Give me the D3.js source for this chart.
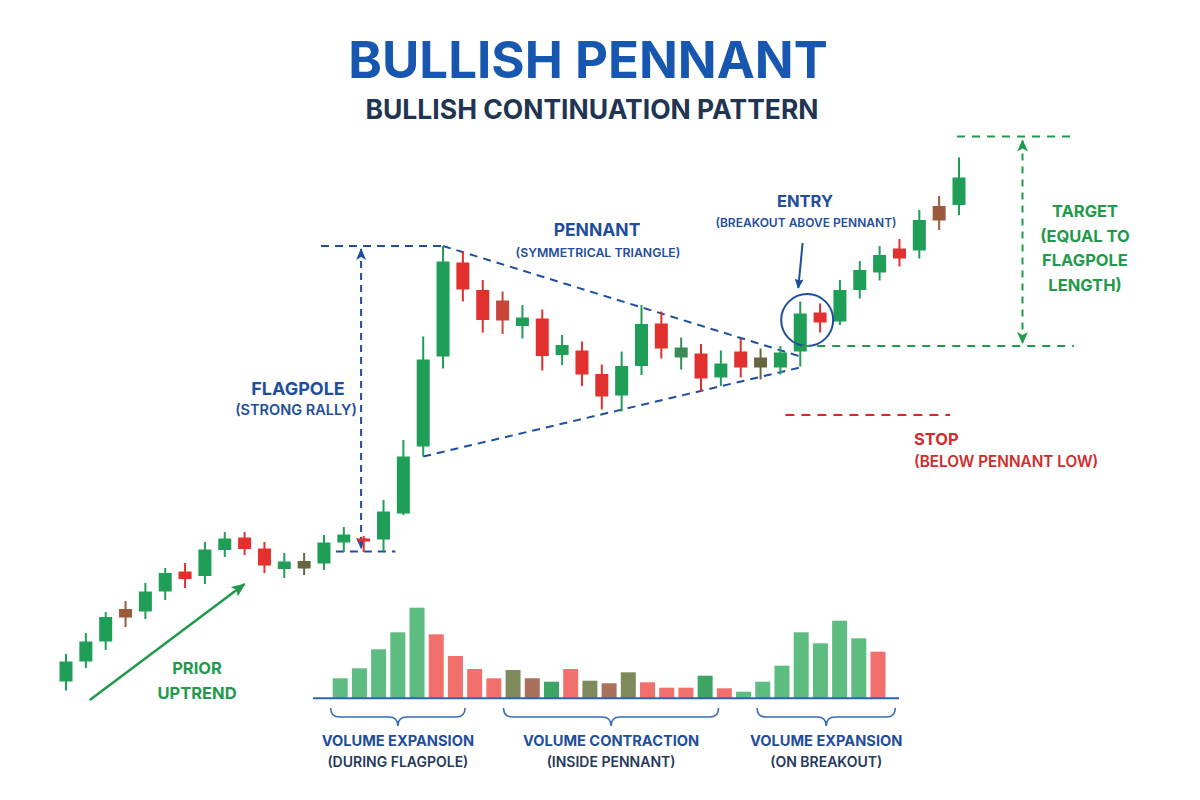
<!DOCTYPE html>
<html><head><meta charset="utf-8">
<script src="https://cdn.jsdelivr.net/npm/d3@7"></script>
<style>body{margin:0;background:#fff;} text{font-family:Inter, Roboto, "DejaVu Sans", sans-serif;}</style>
</head><body><svg id="c" width="1200" height="800"></svg>
<script>
// ---- Data ----
const candleOpen  = [3.7,7.7,11.7,18.2,17.7,21.7,25.7,24.8,30,32.5,30.3,26.2,27.8,27.3,31.5,32.3,32.1,37.3,50.7,68.7,87.5,82,79.9,74.8,76.3,69,69.9,65.2,60.9,66.8,75.3,68.5,69.3,64.5,69.7,68.5,66.5,69.7,77.5,75.7,82,85.5,90.3,89.9,98.8,99];
const candleHigh  = [9.2,13.4,17.6,19.8,23.4,26.4,27.4,31.6,33.6,33.6,31.6,29.4,29.4,33,34.6,32.8,40,52,72.7,90.8,89.7,84,81.7,79,78.1,73,71.7,67.1,69.7,79,77.7,72.5,71.2,69.9,72.3,70.3,70.8,79.7,79.3,84,87.8,90.8,92.2,98,100.8,108.5];
const candleLow   = [1.9,6.4,10,14.6,16.2,20,22.4,23.2,28.6,29,25.4,24.4,25,26,29.6,29.6,29.7,37,48.7,66.3,79.7,73.5,73.2,72.3,65.9,67,62.8,58.1,57.7,65,68.3,66.1,61.8,62.8,64.5,64.1,65.1,66.7,73.5,75,80.3,83.9,86.7,88.3,94,97];
const candleClose = [7.7,11.7,16.6,16.5,21.7,25.4,24.2,30.1,32.3,30.2,26.9,27.7,26.3,31.5,33.1,31.7,37.7,48.7,68.1,87.7,82.1,76,75.9,76.5,68.8,71,65.1,60.7,66.8,75.2,70.3,70.5,64.3,67.3,66.5,66.5,69.5,77.3,75.5,82,86,89,88.3,96,95.9,104.5];
const candleTone  = ["g","g","g","b","g","g","r","g","g","r","r","g","o","g","g","r","g","g","g","g","r","r","rb","g","r","g","r","r","g","g","r","dg","r","g","r","o","g","g","r","g","g","g","r","g","b","g"];

const volumes    = [20,30,49,66,90.6,64,42.3,29.3,20,28.3,20,16.6,29.3,17.6,15,26,16,10.6,10.6,22.6,10,6.6,16.6,32.6,66,55,77.6,60,46.6];
const volumeTone = ["g","g","g","g","g","r","r","r","r","o","b","dg","r","o","b","o","r","r","r","dg","r","g","g","g","g","g","g","g","r"];

// annotation levels (price units) and pattern lines
const flagpoleTop = 90.8, flagpoleBase = 29.7;
const pennantUpper = [[19, 90.8], [37.1, 68.6]];
const pennantLower = [[18, 48.7], [37.1, 66.6]];
const entryLevel = 70.8, targetLevel = 112.7, stopLevel = 57;
const volumeGroups = [
  {from: 0, to: 6.5, label: "VOLUME EXPANSION", sub: "(DURING FLAGPOLE)"},
  {from: 9, to: 19.7, label: "VOLUME CONTRACTION", sub: "(INSIDE PENNANT)"},
  {from: 22.2, to: 28.9, label: "VOLUME EXPANSION", sub: "(ON BREAKOUT)"}
];
const titleText = "BULLISH PENNANT";
const subtitleText = "BULLISH CONTINUATION PATTERN";

// ---- Styles ----
const candleColor = {g:"#1e9e57", r:"#e2302e", b:"#9a5a3c", o:"#656640", rb:"#c9473a", dg:"#3b8b57"};
const volColor = {g:"#5dbd80", r:"#f2706b", o:"#7f8a5c", b:"#a9705c", dg:"#3ea565"};
const BLUE = "#1f4e9c", NAVY = "#25395a", GREEN = "#1f9a4b", RED = "#d42a2a";

const svg = d3.select("#c");
const defs = svg.append("defs");
function marker(id, color, path, w, h, refX) {
  defs.append("marker").attr("id", id).attr("viewBox", `0 0 ${w} ${h}`)
    .attr("refX", refX).attr("refY", h/2).attr("markerWidth", w).attr("markerHeight", h)
    .attr("markerUnits", "userSpaceOnUse").attr("orient", "auto-start-reverse")
    .append("path").attr("d", path).attr("fill", color);
}
marker("arB", BLUE, "M0,0 L12,5 L0,10 L3,5 Z", 12, 10, 11);
marker("arG", GREEN, "M0,0 L12,5.5 L0,11 L3,5.5 Z", 12, 11, 11);
marker("arGU", GREEN, "M0,0 L14,6 L0,12 L3,6 Z", 14, 12, 13);
marker("arE", BLUE, "M0,0 L10,4.5 L0,9 L1.5,4.5 Z", 10, 9, 9);

const x = d3.scaleLinear().domain([0, 45]).range([66, 959]);
const y = d3.scaleLinear().domain([0, 110]).range([700, 150]);
const vx = d3.scaleLinear().domain([0, 28]).range([340.2, 878]);
const vy = d3.scaleLinear().domain([0, 100]).range([698.3, 598.3]);

// ---- Title ----
svg.append("text").attr("x", 588).attr("y", 78).attr("text-anchor", "middle")
  .attr("font-size", 51).attr("font-weight", 700).attr("fill", "#1757b0").text(titleText);
svg.append("text").attr("x", 592).attr("y", 119).attr("text-anchor", "middle")
  .attr("font-size", 26.5).attr("font-weight", 700).attr("fill", "#1f3552").text(subtitleText);

// ---- Volume ----
const vbw = 15;
svg.append("g").selectAll("rect").data(volumes).join("rect")
  .attr("x", (d, i) => vx(i) - vbw/2).attr("width", vbw)
  .attr("y", d => vy(d)).attr("height", d => vy(0) - vy(d))
  .attr("fill", (d, i) => volColor[volumeTone[i]]);
svg.append("line").attr("x1", 313).attr("x2", 899).attr("y1", vy(0)).attr("y2", vy(0))
  .attr("stroke", "#2e63b5").attr("stroke-width", 2);

volumeGroups.forEach(gp => {
  const x1 = vx(gp.from) - 9.5, x2 = vx(gp.to), cx = (x1 + x2) / 2;
  const t = 708, m = 717, b = 726;
  svg.append("path")
    .attr("d", `M${x1},${t} Q${x1},${m} ${x1+9},${m} L${cx-9},${m} Q${cx},${m} ${cx},${b} Q${cx},${m} ${cx+9},${m} L${x2-9},${m} Q${x2},${m} ${x2},${t}`)
    .attr("fill", "none").attr("stroke", "#3a6cb8").attr("stroke-width", 1.6);
  svg.append("text").attr("x", cx).attr("y", 746).attr("text-anchor", "middle")
    .attr("font-size", 14.6).attr("font-weight", 700).attr("fill", BLUE).text(gp.label);
  svg.append("text").attr("x", cx).attr("y", 767).attr("text-anchor", "middle")
    .attr("font-size", 14).attr("font-weight", 600).attr("fill", NAVY).text(gp.sub);
});

// ---- Pattern lines ----
const dashB = "8,6";
const ln = (x1, y1, x2, y2, color, dash, w) => svg.append("line")
  .attr("x1", x1).attr("y1", y1).attr("x2", x2).attr("y2", y2)
  .attr("stroke", color).attr("stroke-width", w || 2).attr("stroke-dasharray", dash || null);

// flagpole
ln(x(12.85), y(flagpoleTop), x(19.1), y(flagpoleTop), BLUE, dashB);
ln(x(13.6), y(flagpoleBase), x(16.6), y(flagpoleBase), BLUE, dashB);
ln(x(14.87), y(flagpoleTop) + 3, x(14.87), y(flagpoleBase) - 3, BLUE, "7,5", 2)
  .attr("marker-start", "url(#arB)").attr("marker-end", "url(#arB)");
// pennant
[pennantUpper, pennantLower].forEach(p => ln(x(p[0][0]), y(p[0][1]), x(p[1][0]), y(p[1][1]), BLUE, dashB));

// ---- Candles ----
const cw = 13;
const cg = svg.append("g");
candleOpen.forEach((o, i) => {
  const c = candleClose[i], col = candleColor[candleTone[i]];
  cg.append("line").attr("x1", x(i)).attr("x2", x(i)).attr("y1", y(candleHigh[i])).attr("y2", y(candleLow[i]))
    .attr("stroke", col).attr("stroke-width", 2);
  const top = y(Math.max(o, c)), bot = y(Math.min(o, c));
  cg.append("rect").attr("x", x(i) - cw/2).attr("width", cw).attr("y", top).attr("height", Math.max(2.5, bot - top))
    .attr("fill", col);
});

// prior uptrend arrow
ln(x(1.2), y(0), x(9), y(23.2), GREEN, null, 2.5).attr("marker-end", "url(#arGU)");

// entry
svg.append("circle").attr("cx", x(37.35)).attr("cy", y(76)).attr("r", 26)
  .attr("fill", "none").attr("stroke", BLUE).attr("stroke-width", 2);
ln(x(37.12), y(91.4), x(36.9), y(82.4), BLUE, null, 2).attr("marker-end", "url(#arE)");

// target
ln(x(37.1), y(entryLevel), x(50.8), y(entryLevel), GREEN, "8,7");
ln(x(44.9), y(targetLevel), x(50.8), y(targetLevel), GREEN, "8,7");
ln(x(48.2), y(targetLevel) + 4, x(48.2), y(entryLevel) - 3, GREEN, "7,6", 2)
  .attr("marker-start", "url(#arG)").attr("marker-end", "url(#arG)");

// stop
ln(x(36.25), y(stopLevel), x(44.55), y(stopLevel), RED, "9,7");

// ---- Labels ----
const label = (tx, ty, s, size, weight, color, anchor) => svg.append("text")
  .attr("x", tx).attr("y", ty).attr("text-anchor", anchor || "middle")
  .attr("font-size", size).attr("font-weight", weight).attr("fill", color).text(s);

label(597, 236, "PENNANT", 17.5, 700, BLUE);
label(598, 257, "(SYMMETRICAL TRIANGLE)", 12.3, 600, BLUE);
label(805, 207, "ENTRY", 16.5, 700, BLUE);
label(806, 227, "(BREAKOUT ABOVE PENNANT)", 12, 600, BLUE);
label(298, 395, "FLAGPOLE", 18, 700, BLUE);
label(296, 415, "(STRONG RALLY)", 14.5, 600, BLUE);
["TARGET", "(EQUAL TO", "FLAGPOLE", "LENGTH)"].forEach((s, i) =>
  label(1085, 217 + i * 24.6, s, 16.5, 700, GREEN));
label(914, 445, "STOP", 16.5, 700, RED, "start");
label(914, 467, "(BELOW PENNANT LOW)", 15.3, 600, RED, "start");
label(197, 674, "PRIOR", 16.5, 700, GREEN);
label(197, 699, "UPTREND", 16.5, 700, GREEN);
</script></body></html>
